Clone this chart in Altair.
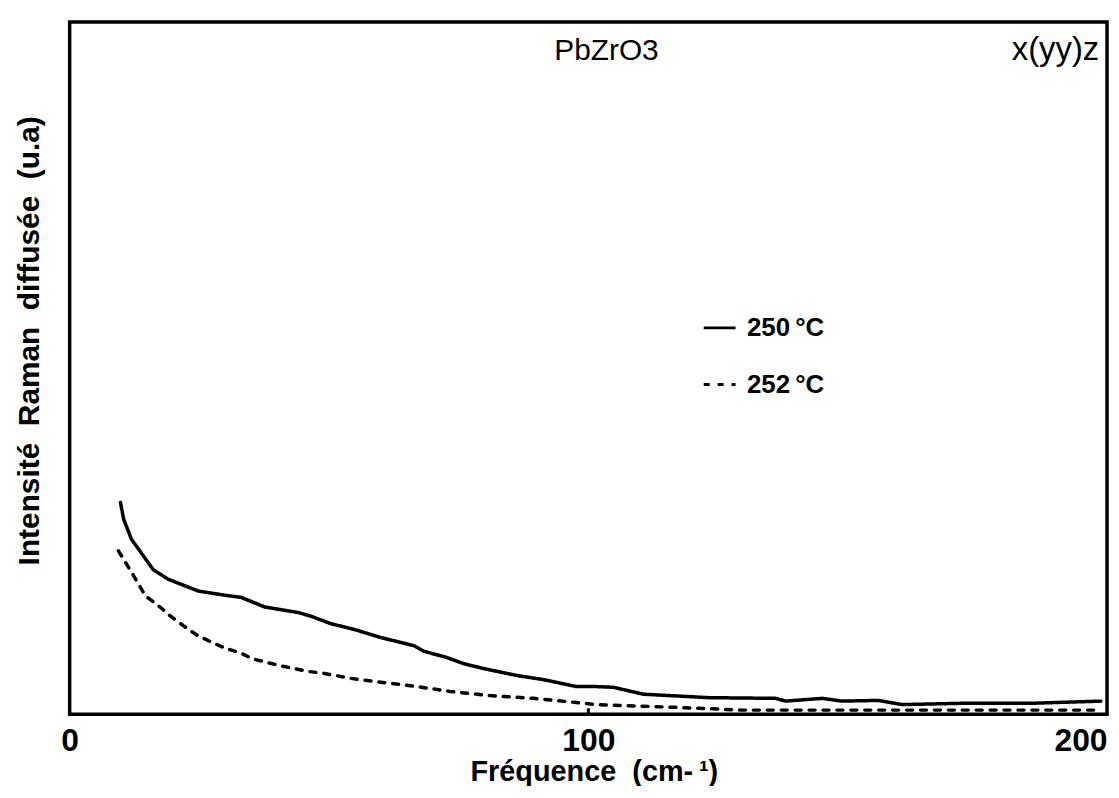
import altair as alt
import pandas as pd

# ---- data ----
freq_250 = [9.8, 10.4, 11.9, 16.1, 19.0, 24.8, 29.9, 33.0, 37.6, 44.0, 46.4, 50.3, 55.1,
            59.9, 66.4, 68.3, 72.7, 76.0, 79.8, 86.2, 91.4, 97.7, 101.5, 104.8, 110.6,
            123.2, 136.1, 138.0, 145.1, 148.9, 155.9, 160.5, 173.1, 186.0, 198.8]
int_250 = [30.6, 28.2, 25.3, 20.9, 19.5, 17.8, 17.2, 16.9, 15.5, 14.7, 14.2, 13.1, 12.2,
           11.1, 9.9, 9.1, 8.2, 7.3, 6.6, 5.6, 5.0, 4.0, 4.0, 3.9, 2.9,
           2.4, 2.3, 1.9, 2.3, 1.9, 2.0, 1.4, 1.6, 1.6, 1.9]

freq_252 = [9.4, 11.3, 12.9, 14.6, 17.1, 19.4, 21.9, 24.4, 27.1, 29.8, 32.8, 35.3, 40.7,
            45.9, 49.1, 54.1, 59.3, 67.0, 73.3, 81.0, 89.4, 97.7, 101.5, 116.9, 129.8,
            148.9, 198.8]
int_252 = [23.6, 21.3, 19.3, 17.1, 15.7, 14.2, 12.8, 11.5, 10.5, 9.6, 8.9, 8.0, 7.0,
           6.2, 5.9, 5.2, 4.7, 4.0, 3.3, 2.7, 2.3, 1.7, 1.4, 1.0, 0.6,
           0.6, 0.6]

series_names = ["250\u2009°C", "252\u2009°C"]
x_ticks = [0, 100, 200]
inner_ticks = [100]

title_texts = ["PbZrO3", "x(yy)z"]
title_x = [103.5, 198.5]
title_y = [94.5, 94.5]

x_title = "Fréquence\u00a0\u00a0(cm-\u2009\u00b9)"
y_title = "Intensité\u00a0\u00a0Raman\u00a0\u00a0diffusée\u00a0\u00a0(u.a)"

FONT = "Liberation Sans"

df = pd.concat([
    pd.DataFrame({"f": freq_250, "i": int_250, "series": series_names[0]}),
    pd.DataFrame({"f": freq_252, "i": int_252, "series": series_names[1]}),
])

xscale = alt.Scale(domain=[0, 200], nice=False, zero=False)
yscale = alt.Scale(domain=[0, 100], nice=False)

lines = alt.Chart(df).mark_line(
    color="black", strokeWidth=3.5, strokeCap="round", strokeJoin="round"
).encode(
    x=alt.X("f:Q", scale=xscale, axis=alt.Axis(
        values=x_ticks, title=x_title, ticks=False, domain=False, grid=False,
        labelFont=FONT, labelFontSize=32, labelFontWeight="bold", labelColor="black",
        labelPadding=11, labelAlign={"expr": "datum.value == 200 ? 'right' : 'center'"},
        titleFont=FONT, titleFontSize=29, titleFontWeight="bold", titleColor="black",
        titleX=527, titleY=67, titleBaseline="alphabetic")),
    y=alt.Y("i:Q", scale=yscale, axis=alt.Axis(
        labels=False, ticks=False, domain=False, grid=False,
        title=y_title,
        titleFont=FONT, titleFontSize=30, titleFontWeight="bold", titleColor="black",
        titleAngle=270, titleX=-31, titleY=320, titleAlign="center",
        titleBaseline="alphabetic")),
    strokeDash=alt.StrokeDash("series:N", scale=alt.Scale(
        domain=series_names, range=[[1, 0], [6, 8]]),
        legend=alt.Legend(title=None, orient="none", legendX=636, legendY=290,
                          symbolType="stroke", symbolSize=1024, symbolStrokeWidth=3,
                          symbolStrokeColor="black", labelFont=FONT, labelFontSize=26,
                          labelFontWeight="bold", labelColor="black", labelOffset=10,
                          rowPadding=26, padding=0)),
)

tick_df = pd.DataFrame({"f": inner_ticks})
ticks = alt.Chart(tick_df).mark_rule(color="black", strokeWidth=3).encode(
    x=alt.X("f:Q", scale=xscale),
    y=alt.value(696), y2=alt.value(690),
)

ann1 = alt.Chart(pd.DataFrame({"f": title_x[:1], "i": title_y[:1], "t": title_texts[:1]})).mark_text(
    font=FONT, fontSize=30, align="center", baseline="alphabetic", color="black"
).encode(x=alt.X("f:Q", scale=xscale), y=alt.Y("i:Q", scale=yscale), text="t:N")

ann2 = alt.Chart(pd.DataFrame({"f": title_x[1:], "i": title_y[1:], "t": title_texts[1:]})).mark_text(
    font=FONT, fontSize=33, align="right", baseline="alphabetic", color="black"
).encode(x=alt.X("f:Q", scale=xscale), y=alt.Y("i:Q", scale=yscale), text="t:N")

chart = alt.layer(lines, ticks, ann1, ann2).properties(
    width=1043, height=696,
    padding={"left": 62, "top": 12, "right": 4, "bottom": 70},
    autosize="none",
).configure(
    background="white",
    view=alt.ViewConfig(stroke="black", strokeWidth=3.5),
)

chart.save("out.html", embed_options={"renderer": "svg", "actions": False})
